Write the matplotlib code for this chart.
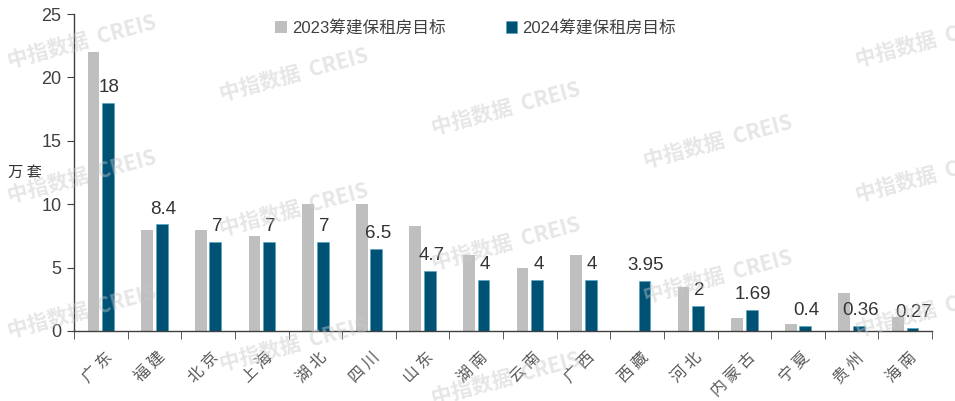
import numpy as np
import matplotlib
matplotlib.use('Agg')
import matplotlib.pyplot as plt

plt.rcParams['font.family'] = ['Liberation Sans', 'Noto Sans CJK SC', 'DejaVu Sans']

provinces = ['广东', '福建', '北京', '上海', '湖北', '四川', '山东', '湖南',
             '云南', '广西', '西藏', '河北', '内蒙古', '宁夏', '贵州', '海南']
target2023 = [22, 8, 8, 7.5, 10, 10, 8.3, 6, 5, 6, 0, 3.5, 1.05, 0.55, 3, 1.1]
target2024 = [18, 8.4, 7, 7, 7, 6.5, 4.7, 4, 4, 4, 3.95, 2, 1.69, 0.4, 0.36, 0.27]
label2024 = ['18', '8.4', '7', '7', '7', '6.5', '4.7', '4', '4', '4', '3.95',
             '2', '1.69', '0.4', '0.36', '0.27']
series_names = ['2023筹建保租房目标', '2024筹建保租房目标']

gray = '#BFBFBF'
blue = '#005275'
txt = '#404040'

fig = plt.figure(figsize=(9.55, 4.01), dpi=100)
ax = fig.add_axes([0.0775, 0.1746, 0.8985, 0.7904])

x = np.arange(len(provinces))
w = 0.22
off = 0.136
ax.bar(x - off, target2023, w, color=gray, label=series_names[0], zorder=2)
bars = ax.bar(x + off, target2024, w, color=blue, edgecolor='#4FA3C4', linewidth=0.4,
              label=series_names[1], zorder=2)

for b, lab in zip(bars, label2024):
    ax.annotate(lab, (b.get_x() + b.get_width() / 2, b.get_height()),
                xytext=(1, 5), textcoords='offset points', ha='center', va='bottom',
                fontsize=13.5, color='#333333', zorder=3)

ax.set_xlim(-0.5, len(provinces) - 0.5)
ax.set_ylim(0, 25)
ax.set_yticks(np.arange(0, 26, 5))
ax.tick_params(axis='y', labelsize=13, labelcolor='#404040', direction='out',
               length=5, color='#404040', pad=4)

# spaced out labels like the original
ax.set_xticks(x + 0.05)
ax.set_xticklabels([' '.join(p) for p in provinces], rotation=45, ha='right',
                   rotation_mode='anchor', fontsize=11.5, color='#595959',
                   family=['Noto Sans CJK SC'], fontweight='light')
ax.tick_params(axis='x', which='major', length=0, pad=13)
ax.set_xticks(np.arange(-0.5, len(provinces)), minor=True)
ax.tick_params(axis='x', which='minor', length=6, color='#404040', direction='out')

for s in ['top', 'right']:
    ax.spines[s].set_visible(False)
for s in ['left', 'bottom']:
    ax.spines[s].set_color('#404040')
    ax.spines[s].set_linewidth(1.0)

leg = fig.legend(loc='center', bbox_to_anchor=(0.498, 0.93), ncol=2, frameon=False,
                 handlelength=0.7, handleheight=0.7, handletextpad=0.3,
                 columnspacing=3.6,
                 prop={'family': ['Liberation Sans', 'Noto Sans CJK SC'], 'size': 12})
for t in leg.get_texts():
    t.set_color(txt)

fig.text(0.008, 1 - 172 / 401, '万 套', fontsize=11, color='#333333',
         family=['Noto Sans CJK SC'], va='center', ha='left')

# watermark
wm_pos = [(82, 42), (82, 177), (82, 312),
          (294, 75), (294, 210), (294, 345),
          (506, 109), (506, 244), (506, 379),
          (718, 142), (718, 277),
          (930, 41), (930, 176), (930, 311)]
for px, py in wm_pos:
    fig.text(px / 955, 1 - py / 401, '中指数据  CREIS', fontsize=15, fontweight='bold',
             color='#C8C8C8', alpha=0.45, rotation=15, ha='center', va='center',
             family=['Noto Sans CJK SC'], zorder=10)

fig.savefig('out.png', dpi=100)
